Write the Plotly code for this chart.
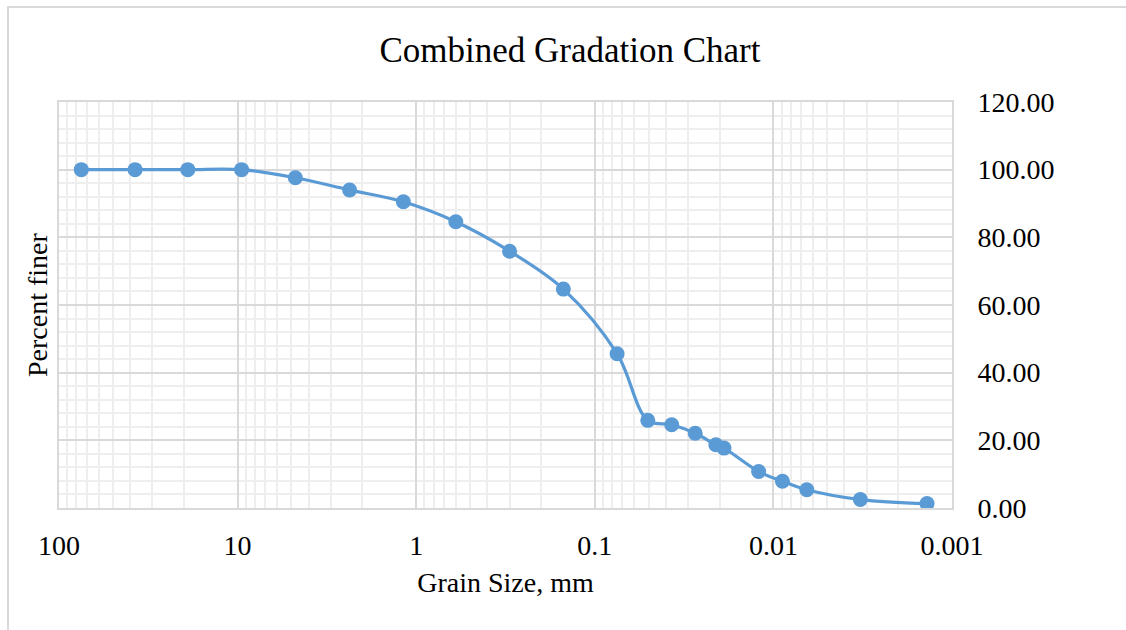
import math
import plotly.graph_objects as go

# Combined sieve + hydrometer gradation results
grain_size_mm = [75.0, 37.5, 19.0, 9.5, 4.75, 2.36, 1.18, 0.600, 0.300, 0.150,
                 0.075, 0.0505, 0.0371, 0.0274, 0.0210, 0.0189, 0.0121,
                 0.0089, 0.0065, 0.00326, 0.00138]
percent_finer = [100.0, 100.0, 100.0, 100.0, 97.6, 94.0, 90.5, 84.6, 75.9, 64.7,
                 45.6, 25.9, 24.6, 22.1, 18.7, 17.7, 10.8, 7.9, 5.4, 2.5, 1.3]

x_tick_values = [100, 10, 1, 0.1, 0.01, 0.001]
x_tick_labels = ["100", "10", "1", "0.1", "0.01", "0.001"]
y_tick_values = [0, 20, 40, 60, 80, 100, 120]

W, H = 1126, 630
L, R, T, B = 59, 174, 102, 122

FONT = "Liberation Serif, Times New Roman, serif"
BLUE = "#5b9bd5"
MAJOR = "#d9d9d9"
MINOR = "#eeeeee"

# minor log gridlines at 2..9 of each decade
minor_x = [m * 10.0 ** e for e in range(-3, 2) for m in range(2, 10)]

fig = go.Figure(
    go.Scatter(
        x=grain_size_mm,
        y=percent_finer,
        mode="lines+markers",
        line=dict(color=BLUE, width=3.2, shape="spline", smoothing=1.0),
        marker=dict(color=BLUE, size=15),
        showlegend=False,
    )
)

pw = W - L - R
ph = H - T - B


def px_to_paper_x(px):
    return (px - L) / pw


def px_to_paper_y(py):
    return (H - B - py) / ph


fig.update_layout(
    width=W,
    height=H,
    margin=dict(l=L, r=R, t=T, b=B, pad=0),
    paper_bgcolor="white",
    plot_bgcolor="white",
    font=dict(family=FONT, color="#000000", size=28),
    title=dict(
        text="Combined Gradation Chart",
        x=570 / W, xanchor="center", xref="container",
        y=1 - 50 / H, yanchor="middle", yref="container",
        font=dict(family=FONT, size=35, color="#000000"),
    ),
    xaxis=dict(
        type="log",
        range=[math.log10(100), math.log10(0.001)],
        tickvals=x_tick_values,
        ticktext=x_tick_labels,
        tickfont=dict(family=FONT, size=28, color="#000000"),
        ticks="",
        ticklabelstandoff=11,
        showgrid=True,
        gridcolor=MAJOR,
        gridwidth=1.5,
        minor=dict(tickvals=minor_x, showgrid=True, gridcolor=MINOR, gridwidth=1.5, ticks=""),
        showline=True,
        linecolor=MAJOR,
        linewidth=2,
        mirror=True,
        zeroline=False,
        title=dict(text="Grain Size, mm", font=dict(family=FONT, size=28, color="#000000"), standoff=13),
    ),
    yaxis=dict(
        side="right",
        range=[0, 120],
        tickvals=y_tick_values,
        tickformat=".2f",
        tickfont=dict(family=FONT, size=28, color="#000000"),
        ticks="",
        ticklabelstandoff=18,
        showgrid=True,
        gridcolor=MAJOR,
        gridwidth=1.5,
        minor=dict(dtick=4, showgrid=True, gridcolor=MINOR, gridwidth=1.5, ticks=""),
        showline=True,
        linecolor=MAJOR,
        linewidth=2,
        mirror=True,
        zeroline=False,
        title=dict(text=""),
    ),
    annotations=[
        dict(
            text="Percent finer",
            textangle=-90,
            xref="paper", yref="paper",
            x=px_to_paper_x(37), y=0.5,
            xanchor="center", yanchor="middle",
            showarrow=False,
            font=dict(family=FONT, size=28, color="#000000"),
        )
    ],
    shapes=[
        dict(
            type="rect",
            xref="paper", yref="paper",
            x0=px_to_paper_x(8), x1=px_to_paper_x(W + 20),
            y0=px_to_paper_y(H + 20), y1=px_to_paper_y(7),
            line=dict(color="#d9d9d9", width=2),
            fillcolor="rgba(0,0,0,0)",
            layer="below",
        )
    ],
)

fig.write_html("out.html")
